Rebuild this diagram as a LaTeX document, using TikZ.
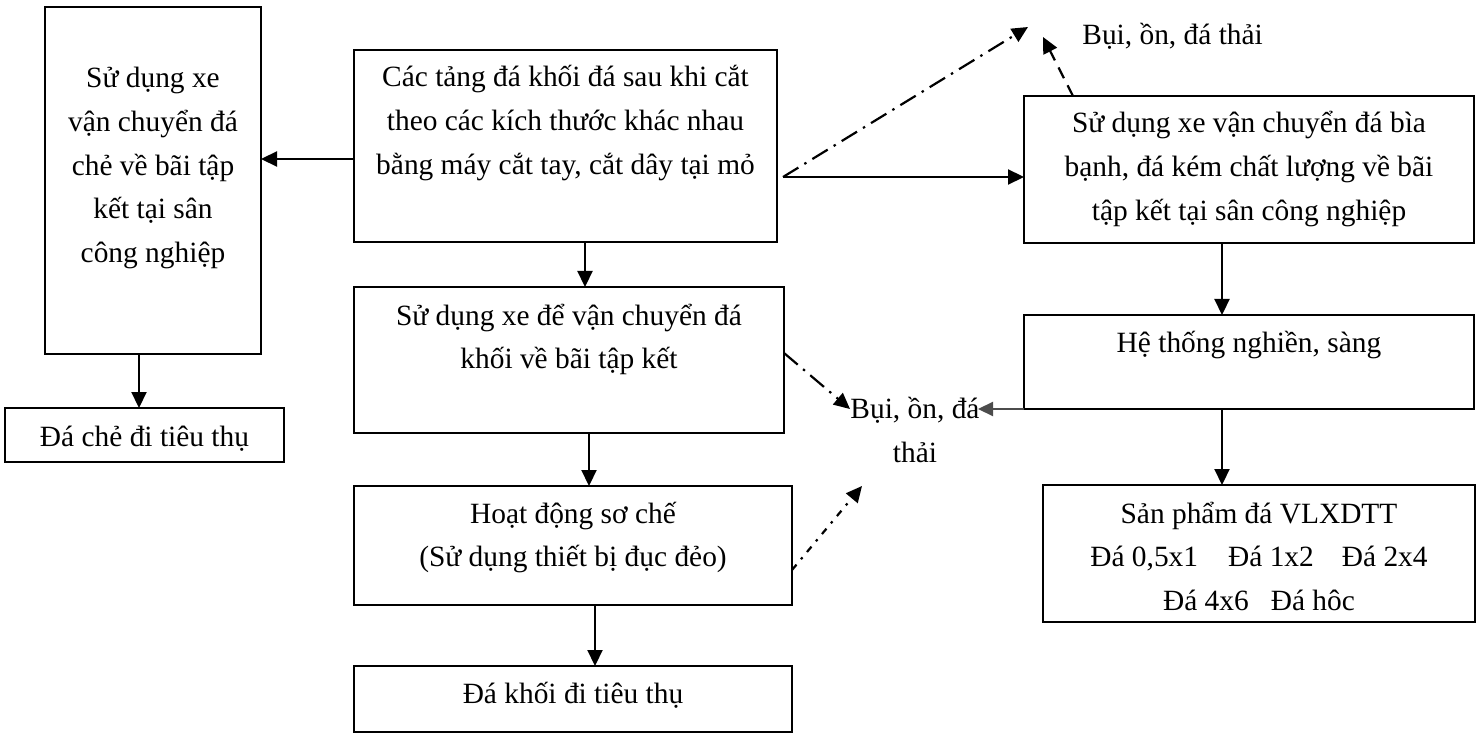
\documentclass[tikz,border=0pt]{standalone}
\usepackage{fontspec}
\setmainfont{Liberation Serif}
\usetikzlibrary{arrows.meta}
\newcommand\vnbox[7]{% name, x, y, w, h, first baseline (px from top), text
  \node[boxnode] (#1) at (#2,#3) {\parbox[t][\dimexpr #5pt/2\relax][t]{\dimexpr #4pt/2\relax}{\centering\lineskiplimit=-100pt\vspace*{\dimexpr #6pt/2-15.26pt\relax}\strut #7\par}};}
\begin{document}
\begin{tikzpicture}[x=0.5pt,y=-0.5pt,
  every node/.style={font=\fontsize{14.7}{21.8}\selectfont},
  boxnode/.style={draw, line width=1.1pt, inner sep=0pt, outer sep=0pt, anchor=north west},
  txt/.style={inner sep=0pt, align=center},
  arr/.style={line width=1.1pt, -{Triangle[length=8pt,width=7.5pt]}},
  dashdotA/.style={arr, dash pattern=on 9pt off 3.5pt on 1.2pt off 3.5pt},
  dashedA/.style={arr, dash pattern=on 6pt off 4pt},
  dotdashA/.style={arr, dash pattern=on 3.5pt off 3.5pt on 1.2pt off 3.5pt},
  grayarr/.style={line width=1.1pt, draw=black!70, -{Triangle[length=7.5pt,width=7pt]}}]
\useasboundingbox (0,0) rectangle (1480,733);
\vnbox{A}{45}{7}{216}{347}{81}{Sử dụng xe\\\strut vận chuyển đá\\\strut chẻ về bãi tập\\\strut kết tại sân\\\strut công nghiệp}
\vnbox{F}{5}{408}{279}{54}{39}{Đá chẻ đi tiêu thụ}
\vnbox{B}{354}{50}{423}{192}{37}{Các tảng đá khối đá sau khi cắt\\\strut theo các kích thước khác nhau\\\strut bằng máy cắt tay, cắt dây tại mỏ}
\vnbox{C}{354}{287}{430}{146}{38}{Sử dụng xe để vận chuyển đá\\\strut khối về bãi tập kết}
\vnbox{D}{354}{486}{438}{119}{37}{Hoạt động sơ chế\\\strut (Sử dụng thiết bị đục đẻo)}
\vnbox{E}{354}{666}{438}{66}{37}{Đá khối đi tiêu thụ}
\vnbox{G}{1024}{96}{450}{147}{37}{Sử dụng xe vận chuyển đá bìa\\\strut bạnh, đá kém chất lượng về bãi\\\strut tập kết tại sân công nghiệp}
\vnbox{H}{1024}{315}{450}{94}{37}{Hệ thống nghiền, sàng}
\vnbox{I}{1043}{485}{432}{137}{38}{Sản phẩm đá VLXDTT\\\strut Đá 0,5x1\hspace{15pt}Đá 1x2\hspace{14pt}Đá 2x4\\\strut Đá 4x6\hspace{11pt}Đá hôc}
\node[txt, anchor=base west] (dust1) at (1082,45) {Bụi, ồn, đá thải};
\node[txt, anchor=base] (dust2) at (915,418) {Bụi, ồn, đá};
\node[txt, anchor=base] (dust2b) at (915,462) {thải};
\coordinate (src) at (783,177);
\coordinate (t1) at (1028,27);
\coordinate (t2) at (1043,37);
\coordinate (t3) at (850,409);
\coordinate (t4) at (862,486);
\coordinate (t5) at (978,409);
\draw[arr] (B.west |- 0,159) -- (A.east |- 0,159);
\draw[arr] (A.south -| 139,0) -- (F.north -| 139,0);
\draw[arr] (B.south -| 585,0) -- (C.north -| 585,0);
\draw[arr] (C.south -| 589,0) -- (D.north -| 589,0);
\draw[arr] (D.south -| 595,0) -- (E.north -| 595,0);
\draw[arr] (src) -- (G.west |- src);
\draw[dashdotA] (src) -- (t1);
\draw[dashedA] (G.north -| 1073,0) -- (t2);
\draw[arr] (G.south -| 1222,0) -- (H.north -| 1222,0);
\draw[arr] (H.south -| 1222,0) -- (I.north -| 1222,0);
\draw[grayarr] (H.south west) -- (t5);
\draw[dashdotA] (C.east |- 0,353) -- (t3);
\draw[dotdashA] (D.east |- 0,570) -- (t4);
\end{tikzpicture}
\end{document}
